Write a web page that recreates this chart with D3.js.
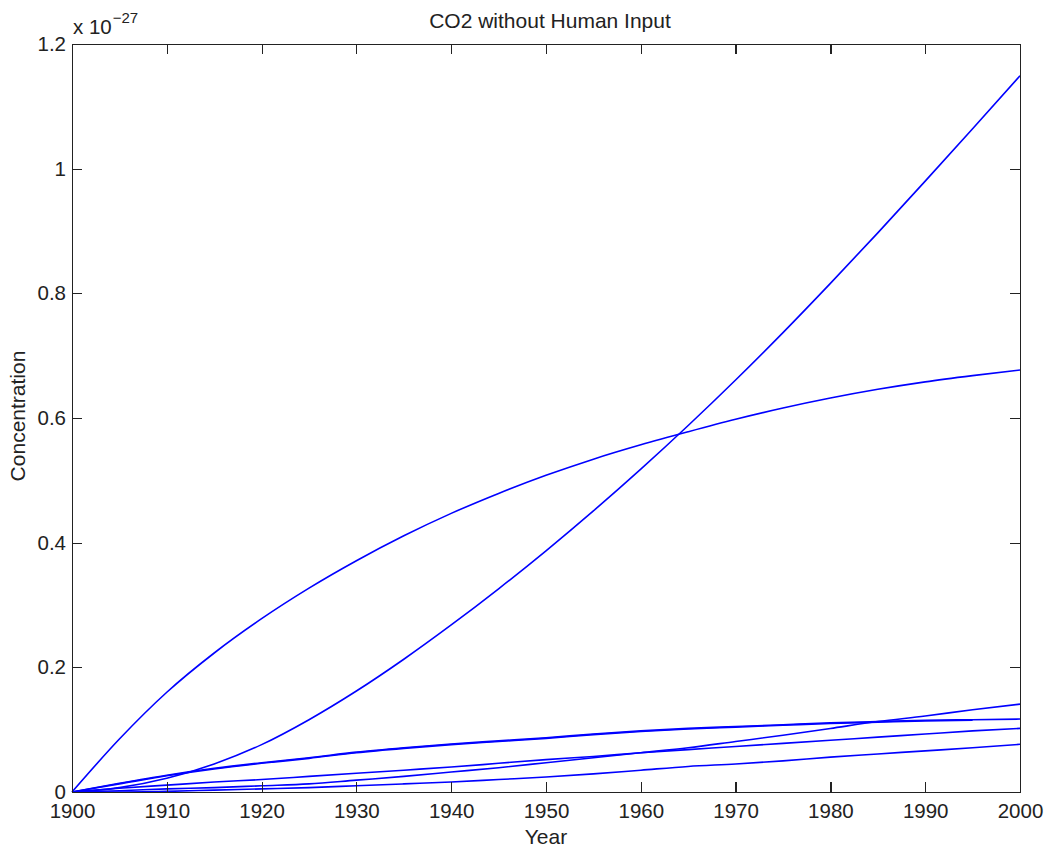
<!DOCTYPE html>
<html lang="en">
<head>
    <meta charset="UTF-8">
    <title>CO2 without Human Input</title>
    <script src="https://cdn.jsdelivr.net/npm/d3@7"></script>
</head>
<body>

    <div class="marco"></div>

    <style>
        body, html {margin: 0; padding: 0; background: #fff; overflow: hidden;}
        .marco{ width: 1047px; height: 850px; }
        svg text{ font-family: Arial, "Liberation Sans", Helvetica, sans-serif; fill: #222; }
        .eje path, .eje line{ stroke: #222; stroke-width: 1.2; shape-rendering: crispEdges; }
        .eje text{ font-size: 20.5px; }
        .linea{ fill: none; stroke: #0000ff; stroke-width: 1.6; }
    </style>

    <script>
        // Años (eje x) y series (unidades de 1e-27)
        const years = [1900, 1905, 1910, 1915, 1920, 1925, 1930, 1935, 1940, 1945, 1950,
                       1955, 1960, 1965, 1970, 1975, 1980, 1985, 1990, 1995, 2000];

        const serieA = [0, 0.085, 0.160, 0.223, 0.278, 0.327, 0.371, 0.411, 0.447, 0.479, 0.508,
                        0.534, 0.557, 0.578, 0.598, 0.616, 0.632, 0.646, 0.658, 0.668, 0.677];
        const serieB = [0, 0.007, 0.022, 0.045, 0.076, 0.116, 0.162, 0.213, 0.268, 0.326, 0.387,
                        0.451, 0.518, 0.588, 0.661, 0.737, 0.816, 0.897, 0.980, 1.064, 1.149];
        const serieC1 = [0, 0.014, 0.027, 0.038, 0.047, 0.055, 0.064, 0.071, 0.077, 0.082, 0.087,
                         0.093, 0.098, 0.102, 0.105, 0.108, 0.111, 0.113, 0.115, 0.116, 0.117];
        const serieC2 = [0, 0.013, 0.026, 0.037, 0.046, 0.054, 0.063, 0.070, 0.076, 0.081, 0.086,
                         0.092, 0.097, 0.101, 0.104, 0.107, 0.110, 0.112, 0.114, 0.115];
        const serieD = [0, 0.002, 0.005, 0.007, 0.010, 0.013, 0.019, 0.025, 0.032, 0.039, 0.047,
                        0.055, 0.063, 0.071, 0.081, 0.091, 0.102, 0.113, 0.122, 0.132, 0.141];
        const serieE = [0, 0.006, 0.011, 0.016, 0.020, 0.025, 0.030, 0.035, 0.040, 0.046, 0.052,
                        0.057, 0.063, 0.068, 0.073, 0.078, 0.083, 0.088, 0.093, 0.098, 0.102];
        const serieF = [0, 0.000, 0.001, 0.003, 0.005, 0.007, 0.010, 0.013, 0.016, 0.020, 0.024,
                        0.029, 0.035, 0.041, 0.045, 0.050, 0.056, 0.061, 0.066, 0.071, 0.0765];

        const xTicks = [1900, 1910, 1920, 1930, 1940, 1950, 1960, 1970, 1980, 1990, 2000];
        const yTicks = [0, 0.2, 0.4, 0.6, 0.8, 1, 1.2];
        const yTickLabels = ["0", "0.2", "0.4", "0.6", "0.8", "1", "1.2"];

        const series = [serieA, serieB, serieC1, serieC2, serieD, serieE, serieF];

        var margin = {top: 44, right: 27, bottom: 58, left: 72},
            width = 1047,
            height = 850,
            innerWidth = width - margin.left - margin.right,
            innerHeight = height - margin.top - margin.bottom;

        var svg = d3.select(".marco").append("svg")
            .attr("width", width)
            .attr("height", height)
            .style("display", "block");

        var g = svg.append("g")
            .attr("transform", `translate(${margin.left}, ${margin.top})`);

        var x = d3.scaleLinear().domain([1900, 2000]).range([0, innerWidth]),
            y = d3.scaleLinear().domain([0, 1.2]).range([innerHeight, 0]);

        // Lineas
        var linea = d3.line()
            .x((d, i) => x(years[i]))
            .y(d => y(d))
            .curve(d3.curveMonotoneX);

        g.selectAll(".linea")
            .data(series)
            .enter().append("path")
            .attr("class", "linea")
            .attr("d", d => linea(d));

        // Ejes con marcas hacia dentro (estilo MATLAB)
        g.append("g").attr("class", "eje")
            .attr("transform", `translate(0, ${innerHeight})`)
            .call(d3.axisBottom(x).tickValues(xTicks).tickFormat(d3.format("d"))
                .tickSizeInner(-10).tickSizeOuter(0).tickPadding(11));

        g.append("g").attr("class", "eje")
            .call(d3.axisTop(x).tickValues(xTicks)
                .tickSizeInner(-10).tickSizeOuter(0))
            .selectAll("text").remove();

        g.append("g").attr("class", "eje")
            .call(d3.axisLeft(y).tickValues(yTicks).tickFormat((d, i) => yTickLabels[i])
                .tickSizeInner(-10).tickSizeOuter(0).tickPadding(6));

        g.append("g").attr("class", "eje")
            .attr("transform", `translate(${innerWidth}, 0)`)
            .call(d3.axisRight(y).tickValues(yTicks)
                .tickSizeInner(-10).tickSizeOuter(0))
            .selectAll("text").remove();

        // Titulo y etiquetas
        svg.append("text")
            .attr("x", margin.left + innerWidth / 2 + 4)
            .attr("y", 28)
            .attr("text-anchor", "middle")
            .style("font-size", "21px")
            .text("CO2 without Human Input");

        svg.append("text")
            .attr("x", margin.left + innerWidth / 2)
            .attr("y", 844)
            .attr("text-anchor", "middle")
            .style("font-size", "21px")
            .text("Year");

        svg.append("text")
            .attr("transform", `translate(25, ${margin.top + innerHeight / 2 - 2}) rotate(-90)`)
            .attr("text-anchor", "middle")
            .style("font-size", "21px")
            .text("Concentration");

        // Multiplicador del eje y
        var mult = svg.append("text")
            .attr("x", 73)
            .attr("y", 34)
            .style("font-size", "20.5px");
        mult.append("tspan").text("x 10");
        mult.append("tspan")
            .attr("dy", -11)
            .attr("dx", 1)
            .style("font-size", "15px")
            .text("\u221227");
    </script>
</body>
</html>
